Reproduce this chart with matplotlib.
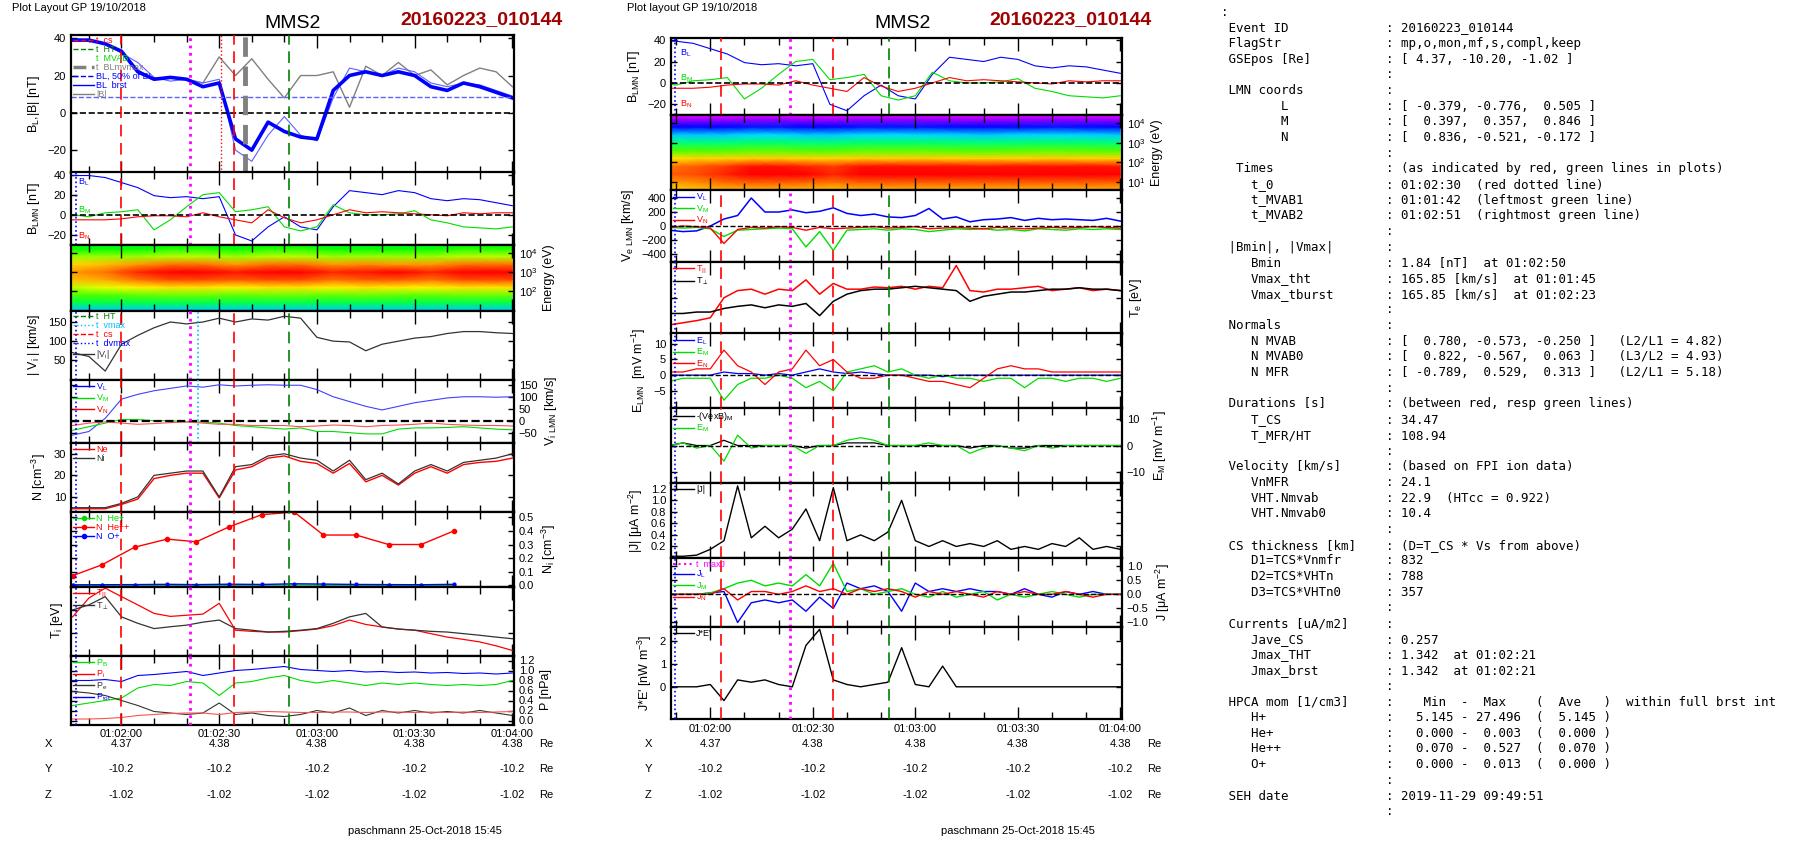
import numpy as np
import matplotlib
matplotlib.use('Agg')
import matplotlib.pyplot as plt
from matplotlib.colors import LinearSegmentedColormap
from matplotlib.lines import Line2D
from matplotlib.ticker import MultipleLocator, FuncFormatter, NullFormatter, NullLocator, FixedLocator

plt.rcParams['font.family'] = ['Liberation Sans', 'DejaVu Sans']
plt.rcParams['mathtext.default'] = 'regular'

# ---------------- data: left column (seconds after 01:00:00) ----------------
tL = [105, 110, 115, 120, 125, 130, 135, 140, 145, 150, 155, 160, 165, 170,
      175, 180, 185, 190, 195, 200, 205, 210, 215, 220, 225, 230, 235, 240]
BL_thick = [39, 39, 37, 33, 22, 18, 19, 18, 14, 16, -14, -20, -5, -10, -13, -14,
            12, 20, 22, 20, 22, 20, 14, 12, 16, 14, 11, 8]
Bmag = [39, 39, 37, 33, 23, 18, 19, 18, 16, 30, 20, 29, 18, 8, 20, 20, 22, 3,
        25, 20, 27, 20, 23, 15, 20, 24, 22, 14]
BL = [39, 39, 37, 32, 27, 19, 17, 18, 16, 18, -20, -26, -12, -2, -12, -15, 8,
      24, 22, 20, 24, 22, 16, 14, 16, 15, 12, 9]
BM = [0, -2, 2, 3, 5, -15, -5, 8, 20, 22, 3, 5, 8, -12, -16, -12, 10, 2, 0, 0,
      1, 4, -5, -8, -12, -13, -14, -12]
BN = [-5, -5, -5, -4, -2, -1, -1, -2, 2, -2, -5, -8, 5, -3, -8, -5, 0, 5, 2, 3,
      2, 1, 0, -1, 2, 1, 2, 2]
Vi_mag = [70, 60, 22, 92, 115, 135, 150, 145, 150, 160, 150, 158, 155, 165, 160,
          110, 100, 98, 75, 92, 100, 108, 112, 120, 125, 125, 122, 120]
ViL = [-60, -45, 10, 90, 110, 125, 135, 145, 140, 150, 145, 148, 150, 148, 148,
       130, 100, 80, 60, 45, 60, 75, 85, 95, 100, 100, 98, 100]
ViM = [-40, -25, -10, 5, 5, 0, 0, -5, -5, -10, -20, -25, -30, -35, -30, -45,
       -45, -50, -55, -55, -35, -30, -30, -28, -25, -30, -35, -38]
ViN = [-20, -10, -5, -10, -15, -12, -8, -5, -10, -15, -15, -20, -20, -20, -25,
       -22, -18, -20, -25, -20, -18, -15, -10, -15, -18, -20, -20, -22]
Ni = [5, 5, 5, 7, 10, 20, 21, 22, 22, 10, 24, 25, 29, 30, 28, 27, 22, 27, 18,
      21, 16, 22, 25, 22, 26, 27, 28, 30]
Ne = [4.5, 4.5, 4.5, 6.5, 9, 18.5, 20, 21, 21, 9.5, 22.5, 24, 28, 29, 26.5,
      25.5, 21, 25.5, 17, 20, 15.5, 21, 24, 21, 25, 26, 26.5, 28]
t_hpca = [105, 114, 124, 134, 143, 153, 163, 173, 182, 192, 202, 212, 222]
N_Hepp = [0.07, 0.15, 0.28, 0.34, 0.32, 0.43, 0.52, 0.54, 0.37, 0.37, 0.30, 0.30, 0.40]
N_Hep = [0.0, 0.0, 0.0, 0.0, 0.0, 0.0, 0.0, 0.001, 0.0, 0.0, 0.0, 0.0, 0.0]
N_Op = [0.002, 0.003, 0.004, 0.006, 0.004, 0.007, 0.005, 0.01, 0.008, 0.005, 0.004, 0.003, 0.006]
Ti_par = [1680, 2500, 2930, 2560, 2200, 1830, 1700, 1750, 1800, 2270, 1100, 1050,
          1020, 1020, 1080, 1150, 1300, 1540, 1350, 1240, 1150, 1100, 950, 800,
          700, 590, 420, 220]
Ti_perp = [1980, 2200, 2560, 1680, 1400, 1170, 1250, 1320, 1450, 1540, 1170, 1100,
           1020, 1050, 1100, 1170, 1400, 1680, 1830, 1240, 1150, 1100, 1050, 1020,
           950, 880, 800, 730]
P_tot = [0.8, 0.8, 0.82, 0.78, 0.9, 0.92, 0.95, 0.98, 0.9, 0.95, 1.0, 1.02, 1.05,
         1.08, 1.02, 1.0, 0.98, 1.0, 0.97, 0.98, 0.96, 0.97, 0.95, 0.96, 0.94, 0.95,
         0.93, 0.95]
P_B = [0.3, 0.35, 0.4, 0.45, 0.65, 0.72, 0.7, 0.78, 0.75, 0.5, 0.75, 0.78, 0.85,
       0.9, 0.8, 0.75, 0.8, 0.75, 0.7, 0.75, 0.72, 0.75, 0.72, 0.7, 0.72, 0.7, 0.72, 0.8]
P_e = [0.58, 0.55, 0.5, 0.4, 0.3, 0.18, 0.15, 0.12, 0.15, 0.35, 0.12, 0.15, 0.1,
       0.08, 0.12, 0.2, 0.15, 0.25, 0.1, 0.2, 0.15, 0.2, 0.15, 0.18, 0.15, 0.2, 0.15, 0.1]
P_i = [0.03, 0.03, 0.04, 0.06, 0.1, 0.12, 0.14, 0.15, 0.15, 0.12, 0.16, 0.17, 0.18,
       0.17, 0.16, 0.16, 0.17, 0.17, 0.16, 0.17, 0.17, 0.16, 0.17, 0.16, 0.17, 0.16,
       0.17, 0.18]
# ion spectrogram (log10 energy rows x time columns)
tSpecI = [104.5, 115, 125, 135, 145, 155, 165, 175, 185, 195, 205, 215, 225, 240]
logE_I = [1.0, 1.4, 1.8, 2.2, 2.6, 3.0, 3.4, 3.8, 4.2, 4.4]
specI = [
    [0.3, 0.3, 0.3, 0.3, 0.3, 0.3, 0.3, 0.3, 0.3, 0.3, 0.3, 0.3, 0.3, 0.3],
    [0.45, 0.45, 0.45, 0.45, 0.45, 0.45, 0.45, 0.45, 0.45, 0.45, 0.45, 0.45, 0.45, 0.45],
    [0.55, 0.55, 0.56, 0.57, 0.57, 0.56, 0.57, 0.57, 0.56, 0.57, 0.56, 0.56, 0.57, 0.57],
    [0.62, 0.65, 0.68, 0.7, 0.7, 0.68, 0.7, 0.7, 0.68, 0.7, 0.69, 0.68, 0.7, 0.7],
    [0.75, 0.78, 0.85, 0.9, 0.9, 0.88, 0.9, 0.9, 0.85, 0.88, 0.88, 0.85, 0.9, 0.9],
    [0.8, 0.85, 0.95, 1.0, 1.0, 0.97, 1.0, 1.0, 0.95, 0.97, 1.0, 0.95, 1.0, 1.0],
    [0.72, 0.75, 0.8, 0.85, 0.85, 0.8, 0.85, 0.85, 0.8, 0.82, 0.8, 0.8, 0.85, 0.85],
    [0.6, 0.6, 0.6, 0.62, 0.62, 0.6, 0.62, 0.62, 0.6, 0.6, 0.6, 0.6, 0.62, 0.62],
    [0.5, 0.5, 0.5, 0.52, 0.52, 0.5, 0.52, 0.52, 0.5, 0.5, 0.5, 0.5, 0.52, 0.52],
    [0.48, 0.48, 0.48, 0.5, 0.5, 0.48, 0.5, 0.5, 0.48, 0.48, 0.48, 0.48, 0.5, 0.5],
]

# ---------------- data: middle column ----------------
tM = [108, 112, 116, 120, 124, 128, 132, 136, 140, 144, 148, 152, 156, 160, 164,
      168, 172, 176, 180, 184, 188, 192, 196, 200, 204, 208, 212, 216, 220, 224,
      228, 232, 236, 240]
VeL = [-60, -80, -70, 0, 100, 150, 400, 200, 200, 230, 190, 210, 260, 180, 150,
       170, 130, 120, 150, 250, 100, 130, 60, 90, 100, 120, 80, 110, 90, 100, 90,
       80, 110, 70]
VeM = [-20, -30, -20, -40, -150, -60, -50, -40, -30, -40, -300, -80, -350, -60,
       -50, -40, -60, -40, -50, -80, -60, -40, -50, -40, -60, -50, -70, -40, -50,
       -60, -40, -50, -40, -50]
VeN = [-20, 0, -10, -30, -250, -50, -20, -30, -10, -20, -60, -20, -40, -30, -20,
       -10, -30, -20, -10, -40, -30, -20, -30, -40, -20, -30, -40, -30, -20, -30,
       -20, -10, -20, -30]
Te_par = [12, 15, 18, 22, 50, 60, 62, 55, 62, 60, 75, 55, 70, 62, 62, 65, 64, 66,
          62, 66, 64, 95, 60, 58, 62, 62, 64, 66, 60, 62, 64, 60, 62, 60]
Te_perp = [28, 28, 30, 30, 35, 38, 40, 36, 40, 38, 42, 25, 45, 55, 60, 62, 62, 64,
           66, 64, 62, 60, 45, 52, 55, 58, 58, 60, 62, 62, 64, 62, 62, 60]
EL = [0, 0, 0, 0, 1, 0.5, 0.5, 0, 0.5, 0, 1, 2, 1, 0.5, 1, 0.5, 0, 0, 0, 0, -0.5,
      0, 0, 0, 0, 0, 0, 0, 0, 0, 0, 0, 0, 0]
EM = [-2, -1, -1, -1, -8, -3, -1, -1, 0, -1, -4, -2, -5, 1, 2, 3, 1, 2, 0, -1, 0,
      -1, -1, -2, -1, -1, -4, -1, -1, -2, -1, -1, -2, -1]
EN = [1, 1, 2, 2, 8, 3, 1, -3, 1, 2, 8, 3, 5, 1, -1, -1, 0, 0, -1, -2, -2, -3, -4,
      -1, 2, 3, 2, 2, 1, 1, 1, 1, 1, 1]
VexB_M = [0, 1, 0, 0, 2, 0, 0, 0, 0, 0, -1, 0, 0, 1, 1, 1, 0, 0, 0, 0, 0, 0, -1,
          0, 0, -1, -1, 0, 0, 0, 0, 0, 0, 0]
EM2 = [0, 1, -1, 0, -6, 4, -1, 0, 0, 0, -3, 0, 0, 2, 3, 2, 0, 0, 0, 1, 0, 0, -3,
       -1, 0, -1, -2, 0, -1, 0, 0, 0, 0, 0]
Jmag = [0.03, 0.03, 0.05, 0.15, 0.3, 1.25, 0.35, 0.55, 0.35, 0.5, 0.85, 0.3, 1.22,
        0.3, 0.4, 0.3, 0.45, 1.0, 0.3, 0.2, 0.3, 0.2, 0.25, 0.2, 0.3, 0.15, 0.2,
        0.15, 0.25, 0.2, 0.35, 0.15, 0.2, 0.15]
JL = [0, 0, 0, 0.05, 0.1, -1.0, -0.3, -0.2, -0.3, -0.2, -0.6, -0.1, -0.5, 0.4, 0.2,
      0.3, 0.1, -0.6, 0.4, 0.1, 0.2, 0.1, 0.2, 0.1, 0.1, 0, 0.2, 0, -0.1, 0.1, 0,
      0.1, 0, 0]
JM = [0, 0, 0, 0.05, 0.2, 0.4, 0.5, 0.3, 0.4, 0.3, 0.7, 0.3, 1.1, 0.1, 0.2, 0, 0.1,
      0.2, 0, -0.1, 0.1, -0.1, 0, 0.1, -0.2, 0, -0.1, 0, 0.1, 0, -0.1, 0, 0, 0]
JN = [0, 0, 0, 0, 0.2, -0.2, 0.1, 0.1, 0, 0.1, 0.3, 0.1, 0.2, 0, 0.2, 0.1, 0.2, 0.1,
      -0.1, 0.1, 0, 0.1, 0, -0.1, 0.1, 0, 0.1, 0, 0, 0.1, 0, -0.1, 0, 0]
JdotE = [0, 0, 0, 0.1, -0.6, 0.3, 0.2, 0.3, 0.1, 0, 1.8, 2.5, 0.3, 0.1, 0, 0.1,
         0.2, 1.7, 0.1, 0, 0.9, 0, 0, 0, 0, 0, 0, 0, 0, 0, 0, 0, 0, 0]
tSpecE = [108, 116, 124, 132, 140, 148, 156, 164, 180, 200, 220, 240]
logE_E = [0.6, 1.0, 1.4, 1.8, 2.2, 2.6, 3.0, 3.4, 3.8, 4.2, 4.4]
specE = [
    [0.72, 0.74, 0.76, 0.76, 0.76, 0.75, 0.74, 0.76, 0.76, 0.76, 0.76, 0.76],
    [0.8, 0.82, 0.86, 0.88, 0.88, 0.87, 0.85, 0.88, 0.88, 0.88, 0.88, 0.88],
    [0.88, 0.9, 0.95, 1.0, 1.0, 1.0, 0.95, 1.0, 1.0, 1.0, 1.0, 1.0],
    [0.85, 0.88, 0.92, 0.98, 0.98, 0.95, 0.92, 0.98, 0.98, 0.97, 0.98, 0.97],
    [0.7, 0.72, 0.72, 0.73, 0.73, 0.72, 0.72, 0.73, 0.73, 0.72, 0.73, 0.72],
    [0.55, 0.55, 0.55, 0.56, 0.56, 0.55, 0.55, 0.56, 0.56, 0.55, 0.56, 0.55],
    [0.42, 0.42, 0.42, 0.43, 0.43, 0.42, 0.42, 0.43, 0.43, 0.42, 0.43, 0.42],
    [0.3, 0.3, 0.3, 0.31, 0.31, 0.3, 0.3, 0.31, 0.31, 0.3, 0.31, 0.3],
    [0.17, 0.17, 0.17, 0.18, 0.18, 0.17, 0.17, 0.18, 0.18, 0.17, 0.18, 0.17],
    [0.06, 0.06, 0.06, 0.07, 0.07, 0.06, 0.06, 0.07, 0.07, 0.06, 0.07, 0.06],
    [0.0, 0.0, 0.0, 0.0, 0.0, 0.0, 0.0, 0.0, 0.0, 0.0, 0.0, 0.0],
]

pos_ticks = [120, 150, 180, 210, 240]
pos_X = ['4.37', '4.38', '4.38', '4.38', '4.38']
pos_Y = ['-10.2', '-10.2', '-10.2', '-10.2', '-10.2']
pos_Z = ['-1.02', '-1.02', '-1.02', '-1.02', '-1.02']

# ---------------- figure ----------------
W, H = 1804, 841
fig = plt.figure(figsize=(W / 100, H / 100), dpi=100)
cmap = LinearSegmentedColormap.from_list(
    'spec', ['#ff00ff', '#0000ff', '#00ffff', '#00ff00', '#ffff00', '#ff8000', '#ff0000'])
FS = 8
DASH = (0, (7, 4))


def mkax(x0, x1, y0, y1):
    return fig.add_axes([x0 / W, 1 - y1 / H, (x1 - x0) / W, (y1 - y0) / H])


def tfmt(v, p):
    v = int(round(v))
    return '01:%02d:%02d' % (v // 60, v % 60)


def style(ax, xlim, bottom=False, side='left', ylabel=None, nolabels=False):
    ax.set_xlim(*xlim)
    ax.xaxis.set_major_locator(MultipleLocator(30))
    ax.xaxis.set_minor_locator(MultipleLocator(10))
    ax.tick_params(which='both', direction='in', top=True, right=True, left=True,
                   labelsize=FS, width=1.0)
    ax.tick_params(which='major', axis='x', length=9)
    ax.tick_params(which='minor', axis='x', length=5)
    ax.tick_params(which='major', axis='y', length=4)
    ax.tick_params(which='minor', axis='y', length=2)
    for s in ax.spines.values():
        s.set_linewidth(1.6)
    if bottom:
        ax.xaxis.set_major_formatter(FuncFormatter(tfmt))
    else:
        ax.xaxis.set_major_formatter(NullFormatter())
    if side == 'right':
        ax.tick_params(axis='y', labelleft=False, labelright=True)
        ax.yaxis.set_label_position('right')
    if nolabels:
        ax.tick_params(axis='y', labelleft=False, labelright=False)
    if ylabel:
        ax.set_ylabel(ylabel, fontsize=FS + 1)


def leg(ax, items, fs=6.5):
    hs = [Line2D([], [], color=c, ls=ls, lw=lw, marker=m, ms=3) for (lab, c, ls, lw, m) in items]
    ax.legend(hs, [i[0] for i in items], loc='upper left', frameon=False, fontsize=fs,
              handlelength=2.4, handletextpad=0.2, labelspacing=0.0, borderaxespad=0.1,
              borderpad=0.1, labelcolor=[i[1] for i in items])


def vlines(ax, lines):
    for (t, c, ls, lw) in lines:
        ax.axvline(t, color=c, ls=ls, lw=lw, zorder=5)


def logticks(ax, vals):
    ax.yaxis.set_major_locator(FixedLocator(vals))
    ax.yaxis.set_minor_locator(NullLocator())
    ax.yaxis.set_major_formatter(FuncFormatter(lambda v, p: '$10^{%d}$' % round(np.log10(v))))


xL = (104.5, 240.5)
xM = (108.5, 240.5)
LX0, LX1 = 71, 514
MX0, MX1 = 671, 1122
vl_L = [(106, 'blue', ':', 1.2), (120, 'red', DASH, 1.2), (141, 'magenta', ':', 2.0),
        (154.5, 'red', DASH, 1.2), (171.5, 'green', DASH, 1.2)]
vl_M = [(109.8, 'blue', ':', 1.2), (123.2, 'red', DASH, 1.2), (143.3, 'magenta', ':', 2.0),
        (155.9, 'red', DASH, 1.2), (172.2, 'green', DASH, 1.2)]

# ======== LEFT COLUMN ========
yb = [34.5, 172.5, 245, 310.5, 379.5, 443, 512, 586.5, 655.5, 724.5]
axL = [mkax(LX0, LX1, yb[i], yb[i + 1]) for i in range(9)]

ax = axL[0]
ax.plot(tL, Bmag, color='gray', lw=1.0)
ax.plot(tL, BL, color='#6060ff', lw=0.8)
ax.plot(tL, BL_thick, color='blue', lw=2.6)
ax.axhline(8.5, color='#6060ff', ls='--', lw=1.0)
ax.axhline(0, color='black', ls='--', lw=1.2)
vlines(ax, vl_L[1:] + [(150.6, 'red', ':', 1.0), (158, 'gray', (0, (4, 2)), 3.5)])
ax.set_ylim(-32, 42)
ax.set_yticks([-20, 0, 20, 40])
style(ax, xL, ylabel='B$_L$,|B| [nT]')
leg(ax, [('t  cs', 'red', '--', 1, None), ('t  HT', 'green', '--', 1, None),
         ('t  MVAB', '#00dd00', 'none', 1, None), ('t  BLmvmax', 'gray', '--', 2.5, None),
         ('BL, 50% of BL', 'blue', '--', 1, None), ('BL  brst', 'blue', '-', 1, None),
         ('|B|', 'gray', '-', 1, None)], fs=6.5)

ax = axL[1]
ax.plot(tL, BL, color='blue', lw=0.8)
ax.plot(tL, BM, color='#00dd00', lw=0.8)
ax.plot(tL, BN, color='red', lw=0.8)
ax.axhline(0, color='black', ls='--', lw=1.2)
vlines(ax, vl_L)
ax.set_ylim(-30, 42)
ax.set_yticks([-20, 0, 20, 40])
style(ax, xL, ylabel='B$_{LMN}$ [nT]')
ax.text(106.5, 30, 'B$_L$', color='blue', fontsize=6.5)
ax.text(106.5, 2, 'B$_M$', color='#00dd00', fontsize=6.5)
ax.text(106.5, -24, 'B$_N$', color='red', fontsize=6.5)

ax = axL[2]
ax.pcolormesh(tSpecI, [10 ** e for e in logE_I], specI, cmap=cmap, vmin=0, vmax=1,
              shading='gouraud')
ax.set_yscale('log')
ax.set_ylim(10, 2.5e4)
style(ax, xL, side='right', ylabel='Energy (eV)')
logticks(ax, [1e2, 1e3, 1e4])

ax = axL[3]
ax.plot(tL, Vi_mag, color='#333333', lw=0.9)
vlines(ax, vl_L + [(143.5, '#00bfff', ':', 1.2)])
ax.set_ylim(0, 180)
ax.set_yticks([50, 100, 150])
style(ax, xL, ylabel='| V$_i$ | [km/s]')
leg(ax, [('t  HT', 'green', '--', 1, None), ('t  vmax', '#00bfff', ':', 1, None),
         ('t  cs', 'red', '--', 1, None), ('t  dvmax', 'blue', ':', 1, None),
         ('|V$_i$|', '#333333', '-', 1, None)], fs=6.5)

ax = axL[4]
ax.plot(tL, ViL, color='#4040ff', lw=0.8)
ax.plot(tL, ViM, color='#00dd00', lw=0.8)
ax.plot(tL, ViN, color='#ff5050', lw=0.8)
ax.axhline(0, color='black', ls='--', lw=1.6)
vlines(ax, vl_L + [(143.5, '#00bfff', ':', 1.2)])
ax.set_ylim(-93, 172)
ax.set_yticks([-50, 0, 50, 100, 150])
style(ax, xL, side='right', ylabel='V$_{i\\ LMN}$ [km/s]')
leg(ax, [('V$_L$', 'blue', '-', 1, None), ('V$_M$', '#00dd00', '-', 1, None),
         ('V$_N$', 'red', '-', 1, None)], fs=6.5)

ax = axL[5]
ax.plot(tL, Ne, color='red', lw=1.0)
ax.plot(tL, Ni, color='#333333', lw=0.9)
vlines(ax, vl_L)
ax.set_ylim(3, 35)
ax.set_yticks([10, 20, 30])
style(ax, xL, ylabel='N [cm$^{-3}$]')
leg(ax, [('Ne', 'red', '-', 1, None), ('Ni', '#333333', '-', 1, None)], fs=6.5)

ax = axL[6]
ax.plot(t_hpca, N_Hepp, color='red', lw=1.0, marker='o', ms=3)
ax.plot(t_hpca, N_Hep, color='#00dd00', lw=1.0, marker='o', ms=2)
ax.plot(t_hpca, N_Op, color='blue', lw=1.0, marker='o', ms=2)
vlines(ax, vl_L)
ax.set_ylim(-0.01, 0.54)
ax.set_yticks([0.0, 0.1, 0.2, 0.3, 0.4, 0.5])
style(ax, xL, side='right', ylabel='N$_i$ [cm$^{-3}$]')
leg(ax, [('N  He+', '#00dd00', '-', 1, 'o'), ('N  He++', 'red', '-', 1, 'o'),
         ('N  O+', 'blue', '-', 1, 'o')], fs=6.5)

ax = axL[7]
ax.plot(tL, Ti_par, color='red', lw=0.9)
ax.plot(tL, Ti_perp, color='#333333', lw=0.9)
vlines(ax, vl_L)
ax.set_ylim(0, 3000)
style(ax, xL, ylabel='T$_i$ [eV]', nolabels=True)
leg(ax, [('T$_{||}$', 'red', '-', 1, None), ('T$_\\perp$', '#333333', '-', 1, None)], fs=6.5)

ax = axL[8]
ax.plot(tL, P_tot, color='blue', lw=0.8)
ax.plot(tL, P_B, color='#00dd00', lw=0.8)
ax.plot(tL, P_e, color='#333333', lw=0.8)
ax.plot(tL, P_i, color='#ff5050', lw=0.8)
vlines(ax, vl_L)
ax.set_ylim(-0.08, 1.3)
ax.set_yticks([0.0, 0.2, 0.4, 0.6, 0.8, 1.0, 1.2])
style(ax, xL, bottom=True, side='right', ylabel='P [nPa]')
ax.set_yticklabels(['0.0', '0.2', '0.4', '0.6', '0.8', '1.0', '1.2'])
leg(ax, [('P$_B$', '#00dd00', '-', 1, None), ('P$_i$', 'red', '-', 1, None),
         ('P$_e$', '#333333', '-', 1, None), ('P$_{tot}$', 'blue', '-', 1, None)], fs=6.5)

# ======== MIDDLE COLUMN ========
ym = [38, 115, 190, 262, 333.5, 408, 483, 558, 627, 719]
axM = [mkax(MX0, MX1, ym[i], ym[i + 1]) for i in range(9)]

ax = axM[0]
ax.plot(tL, BL, color='blue', lw=0.8)
ax.plot(tL, BM, color='#00dd00', lw=0.8)
ax.plot(tL, BN, color='red', lw=0.8)
ax.axhline(0, color='black', ls='--', lw=1.2)
vlines(ax, vl_M)
ax.set_ylim(-30, 42)
ax.set_yticks([-20, 0, 20, 40])
style(ax, xM, ylabel='B$_{LMN}$ [nT]')
ax.text(111, 26, 'B$_L$', color='blue', fontsize=6.5)
ax.text(111, 2, 'B$_M$', color='#00dd00', fontsize=6.5)
ax.text(111, -22, 'B$_N$', color='red', fontsize=6.5)

ax = axM[1]
ax.pcolormesh(tSpecE, [10 ** e for e in logE_E], specE, cmap=cmap, vmin=0, vmax=1,
              shading='gouraud')
ax.set_yscale('log')
ax.set_ylim(4, 2.5e4)
style(ax, xM, side='right', ylabel='Energy (eV)')
logticks(ax, [1e1, 1e2, 1e3, 1e4])

ax = axM[2]
ax.plot(tM, VeL, color='blue', lw=1.1)
ax.plot(tM, VeM, color='#00dd00', lw=1.0)
ax.plot(tM, VeN, color='red', lw=1.0)
ax.axhline(0, color='black', ls='--', lw=1.0)
vlines(ax, vl_M)
ax.set_ylim(-515, 515)
ax.set_yticks([-400, -200, 0, 200, 400])
style(ax, xM, ylabel='V$_{e\\ LMN}$ [km/s]')
leg(ax, [('V$_L$', 'blue', '-', 1, None), ('V$_M$', '#00dd00', '-', 1, None),
         ('V$_N$', 'red', '-', 1, None)], fs=6.5)

ax = axM[3]
ax.plot(tM, Te_par, color='red', lw=1.1)
ax.plot(tM, Te_perp, color='black', lw=1.1)
vlines(ax, vl_M)
ax.set_ylim(0, 100)
style(ax, xM, side='right', ylabel='T$_e$ [eV]', nolabels=True)
leg(ax, [('T$_{||}$', 'red', '-', 1, None), ('T$_\\perp$', 'black', '-', 1, None)], fs=6.5)

ax = axM[4]
ax.plot(tM, EL, color='blue', lw=0.9)
ax.plot(tM, EM, color='#00dd00', lw=0.9)
ax.plot(tM, EN, color='red', lw=0.9)
ax.axhline(0, color='black', ls='--', lw=1.0)
vlines(ax, vl_M)
ax.set_ylim(-10.5, 13.3)
ax.set_yticks([-5, 0, 5, 10])
style(ax, xM, ylabel='E$_{LMN}$  [mV m$^{-1}$]')
leg(ax, [('E$_L$', 'blue', '-', 1, None), ('E$_M$', '#00dd00', '-', 1, None),
         ('E$_N$', 'red', '-', 1, None)], fs=6.5)

ax = axM[5]
ax.plot(tM, VexB_M, color='black', lw=0.9)
ax.plot(tM, EM2, color='#00dd00', lw=0.9)
ax.axhline(0, color='black', ls='--', lw=1.0)
vlines(ax, vl_M)
ax.set_ylim(-14.4, 14.4)
ax.set_yticks([-10, 0, 10])
style(ax, xM, side='right', ylabel='E$_M$ [mV m$^{-1}$]')
leg(ax, [('-(VexB)$_M$', 'black', '-', 1, None), ('E$_M$', '#00dd00', '-', 1, None)], fs=6.5)

ax = axM[6]
ax.plot(tM, Jmag, color='black', lw=1.0)
vlines(ax, vl_M)
ax.set_ylim(0, 1.3)
ax.set_yticks([0.2, 0.4, 0.6, 0.8, 1.0, 1.2])
style(ax, xM, ylabel='|J| [μA m$^{-2}$]')
leg(ax, [('|J|', 'black', '-', 1, None)], fs=6.5)

ax = axM[7]
ax.plot(tM, JL, color='blue', lw=1.0)
ax.plot(tM, JM, color='#00dd00', lw=1.0)
ax.plot(tM, JN, color='red', lw=1.0)
ax.axhline(0, color='black', ls='--', lw=1.0)
vlines(ax, vl_M)
ax.set_ylim(-1.16, 1.29)
ax.set_yticks([-1.0, -0.5, 0.0, 0.5, 1.0])
style(ax, xM, side='right', ylabel='J [μA m$^{-2}$]')
leg(ax, [('t  maxJ', 'magenta', ':', 1.5, None), ('J$_L$', 'blue', '-', 1, None),
         ('J$_M$', '#00dd00', '-', 1, None), ('J$_N$', 'red', '-', 1, None)], fs=6.5)

ax = axM[8]
ax.plot(tM, JdotE, color='black', lw=1.0)
vlines(ax, vl_M)
ax.set_ylim(-1.4, 2.6)
ax.set_yticks([0, 1, 2])
style(ax, xM, bottom=True, ylabel="J*E' [nW m$^{-3}$]")
leg(ax, [("J*E'", 'black', '-', 1, None)], fs=6.5)

# ---------------- titles, position table, footers ----------------
for (x0, x1, lbl, ax, mmsx, datex, tx) in [
        (LX0, LX1, 'Plot Layout GP 19/10/2018', axL[8], 293, 400, 12),
        (MX0, MX1, 'Plot layout GP 19/10/2018', axM[8], 903, 989, 627)]:
    fig.text(tx / W, 1 - 8 / H, lbl, fontsize=8, va='center')
    fig.text(mmsx / W, 1 - 24 / H, 'MMS2', fontsize=14, ha='center', va='center')
    fig.text(datex / W, 1 - 20 / H, '20160223_010144', fontsize=14, ha='left',
             va='center', color='#a00000', fontweight='bold')
    for row, vals, yy in [('X', pos_X, 744), ('Y', pos_Y, 769), ('Z', pos_Z, 795)]:
        fig.text((x0 - 23) / W, 1 - yy / H, row, fontsize=FS, ha='center', va='center')
        fig.text((x1 + 32) / W, 1 - yy / H, 'Re', fontsize=FS, ha='center', va='center')
        for t, v in zip(pos_ticks, vals):
            xf = x0 + (t - ax.get_xlim()[0]) / (ax.get_xlim()[1] - ax.get_xlim()[0]) * (x1 - x0)
            fig.text(xf / W, 1 - yy / H, v, fontsize=FS, ha='center', va='center')
fig.text(425 / W, 1 - 831 / H, 'paschmann 25-Oct-2018 15:45', fontsize=8, ha='center', va='center')
fig.text(1018 / W, 1 - 831 / H, 'paschmann 25-Oct-2018 15:45', fontsize=8, ha='center', va='center')

# ---------------- right text block ----------------
def row(lbl, val=''):
    return (lbl.ljust(22) + ': ' + val).rstrip() if val else lbl.ljust(22) + ':'

lines = [
    ':',
    row(' Event ID', '20160223_010144'),
    row(' FlagStr', 'mp,o,mon,mf,s,compl,keep'),
    row(' GSEpos [Re]', '[ 4.37, -10.20, -1.02 ]'),
    row(''),
    row(' LMN coords'),
    row('        L', '[ -0.379, -0.776,  0.505 ]'),
    row('        M', '[  0.397,  0.357,  0.846 ]'),
    row('        N', '[  0.836, -0.521, -0.172 ]'),
    row(''),
    row('  Times', '(as indicated by red, green lines in plots)'),
    row('    t_0', '01:02:30  (red dotted line)'),
    row('    t_MVAB1', '01:01:42  (leftmost green line)'),
    row('    t_MVAB2', '01:02:51  (rightmost green line)'),
    row(''),
    row(' |Bmin|, |Vmax|'),
    row('    Bmin', '1.84 [nT]  at 01:02:50'),
    row('    Vmax_tht', '165.85 [km/s]  at 01:01:45'),
    row('    Vmax_tburst', '165.85 [km/s]  at 01:02:23'),
    row(''),
    row(' Normals'),
    row('    N MVAB', '[  0.780, -0.573, -0.250 ]   (L2/L1 = 4.82)'),
    row('    N MVAB0', '[  0.822, -0.567,  0.063 ]   (L3/L2 = 4.93)'),
    row('    N MFR', '[ -0.789,  0.529,  0.313 ]   (L2/L1 = 5.18)'),
    row(''),
    row(' Durations [s]', '(between red, resp green lines)'),
    row('    T_CS', '34.47'),
    row('    T_MFR/HT', '108.94'),
    row(''),
    row(' Velocity [km/s]', '(based on FPI ion data)'),
    row('    VnMFR', '24.1'),
    row('    VHT.Nmvab', '22.9  (HTcc = 0.922)'),
    row('    VHT.Nmvab0', '10.4'),
    row(''),
    row(' CS thickness [km]', '(D=T_CS * Vs from above)'),
    row('    D1=TCS*Vnmfr', '832'),
    row('    D2=TCS*VHTn', '788'),
    row('    D3=TCS*VHTn0', '357'),
    row(''),
    row(' Currents [uA/m2]'),
    row('    Jave_CS', '0.257'),
    row('    Jmax_THT', '1.342  at 01:02:21'),
    row('    Jmax_brst', '1.342  at 01:02:21'),
    row(''),
    row(' HPCA mom [1/cm3]', '   Min  -  Max    (  Ave   )  within full brst int'),
    row('    H+', '  5.145 - 27.496  (  5.145 )'),
    row('    He+', '  0.000 -  0.003  (  0.000 )'),
    row('    He++', '  0.070 -  0.527  (  0.070 )'),
    row('    O+', '  0.000 -  0.013  (  0.000 )'),
    row(''),
    row(' SEH date', '2019-11-29 09:49:51'),
    row(''),
]
for i, s in enumerate(lines):
    fig.text(1221 / W, 1 - (12 + 15.68 * i) / H, s, fontsize=9.0,
             family='DejaVu Sans Mono', va='center', ha='left')

fig.savefig('out.png', dpi=100, facecolor='white')
